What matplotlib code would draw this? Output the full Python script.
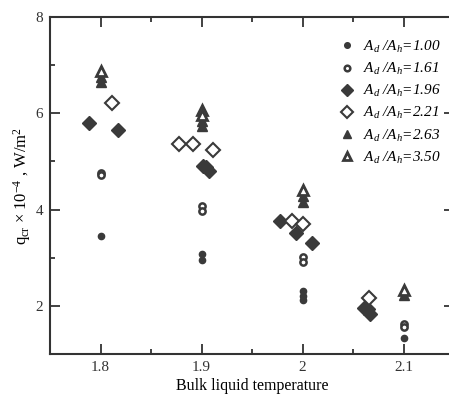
import matplotlib.pyplot as plt
from matplotlib.ticker import MultipleLocator

plt.rcParams['font.family'] = 'Liberation Serif'
plt.rcParams['mathtext.fontset'] = 'custom'
plt.rcParams['mathtext.rm'] = 'Liberation Serif'
plt.rcParams['mathtext.it'] = 'Liberation Serif:italic'

# Critical heat flux (x 1e-4 W/m^2) vs bulk liquid temperature, per area ratio
t_100 = [1.8, 1.9, 1.9, 2.0, 2.0, 2.0, 2.1]
q_100 = [3.46, 3.08, 2.96, 2.30, 2.20, 2.12, 1.33]

t_161 = [1.8, 1.8, 1.9, 1.9, 2.0, 2.0, 2.1, 2.1]
q_161 = [4.77, 4.71, 4.08, 3.96, 3.02, 2.91, 1.63, 1.56]

t_196 = [1.789, 1.8175, 1.901, 1.904, 1.907, 1.978, 1.994, 2.009, 2.061, 2.065, 2.067]
q_196 = [5.79, 5.65, 4.90, 4.88, 4.80, 3.76, 3.51, 3.30, 1.96, 1.94, 1.84]

t_221 = [1.811, 1.878, 1.892, 1.911, 1.990, 2.0, 2.066]
q_221 = [6.21, 5.37, 5.37, 5.23, 3.77, 3.71, 2.17]

t_263 = [1.8, 1.8, 1.9, 1.9, 2.0, 2.0, 2.1]
q_263 = [6.75, 6.65, 5.85, 5.73, 4.29, 4.15, 2.22]

t_350 = [1.8, 1.9, 1.9, 2.0, 2.1]
q_350 = [6.87, 6.06, 5.96, 4.41, 2.32]

c = '#3a3a3a'

fig = plt.figure(figsize=(4.49, 3.95), dpi=100)
ax = fig.add_axes([50 / 449, 41 / 395, 404 / 449, 337 / 395])

ax.plot(t_100, q_100, 'o', ms=4.5, color=c, ls='none', label=r'$A_d$ /$A_h$=1.00')
ax.plot(t_161, q_161, 'o', ms=4.5, mfc='white', mec=c, mew=1.8, ls='none',
        label=r'$A_d$ /$A_h$=1.61')
ax.plot(t_196, q_196, 'D', ms=7, color=c, ls='none', label=r'$A_d$ /$A_h$=1.96')
ax.plot(t_221, q_221, 'D', ms=7, mfc='white', mec=c, mew=1.5, ls='none',
        label=r'$A_d$ /$A_h$=2.21')
ax.plot(t_263, q_263, '^', ms=7, color=c, ls='none', label=r'$A_d$ /$A_h$=2.63')
ax.plot(t_350, q_350, '^', ms=6.5, mfc='white', mec=c, mew=2.0, ls='none',
        label=r'$A_d$ /$A_h$=3.50')

ax.set_xlim(1.75, 2.15)
ax.set_ylim(1, 8)
ax.set_xticks([1.8, 1.9, 2.0, 2.1])
ax.set_xticklabels(['1.8', '1.9', '2', '2.1'])
ax.set_yticks([2, 4, 6, 8])
ax.xaxis.set_minor_locator(MultipleLocator(0.05))
ax.yaxis.set_minor_locator(MultipleLocator(1))
ax.tick_params(which='both', direction='in', top=True, right=True,
               labelsize=11, colors='#333333', width=1.3)
ax.tick_params(which='major', length=7, pad=5)
ax.tick_params(which='minor', length=3.5)
for s in ax.spines.values():
    s.set_linewidth(1.5)
    s.set_color('#333333')

ax.set_xlabel('Bulk liquid temperature', fontsize=11.5, labelpad=3)
ax.set_ylabel(r'q$_{\mathrm{cr}}$ $\times$ 10$^{-4}$ , W/m$^2$', fontsize=12, labelpad=2)

leg = ax.legend(loc='upper left', bbox_to_anchor=(332 / 449, 1 - 31 / 395),
                bbox_transform=fig.transFigure, frameon=False, fontsize=11,
                handlelength=1.0, handletextpad=0.5, labelspacing=0.4,
                borderpad=0, markerscale=0.9)
for t in leg.get_texts():
    t.set_fontstyle('italic')

fig.savefig('out.png', dpi=100)
